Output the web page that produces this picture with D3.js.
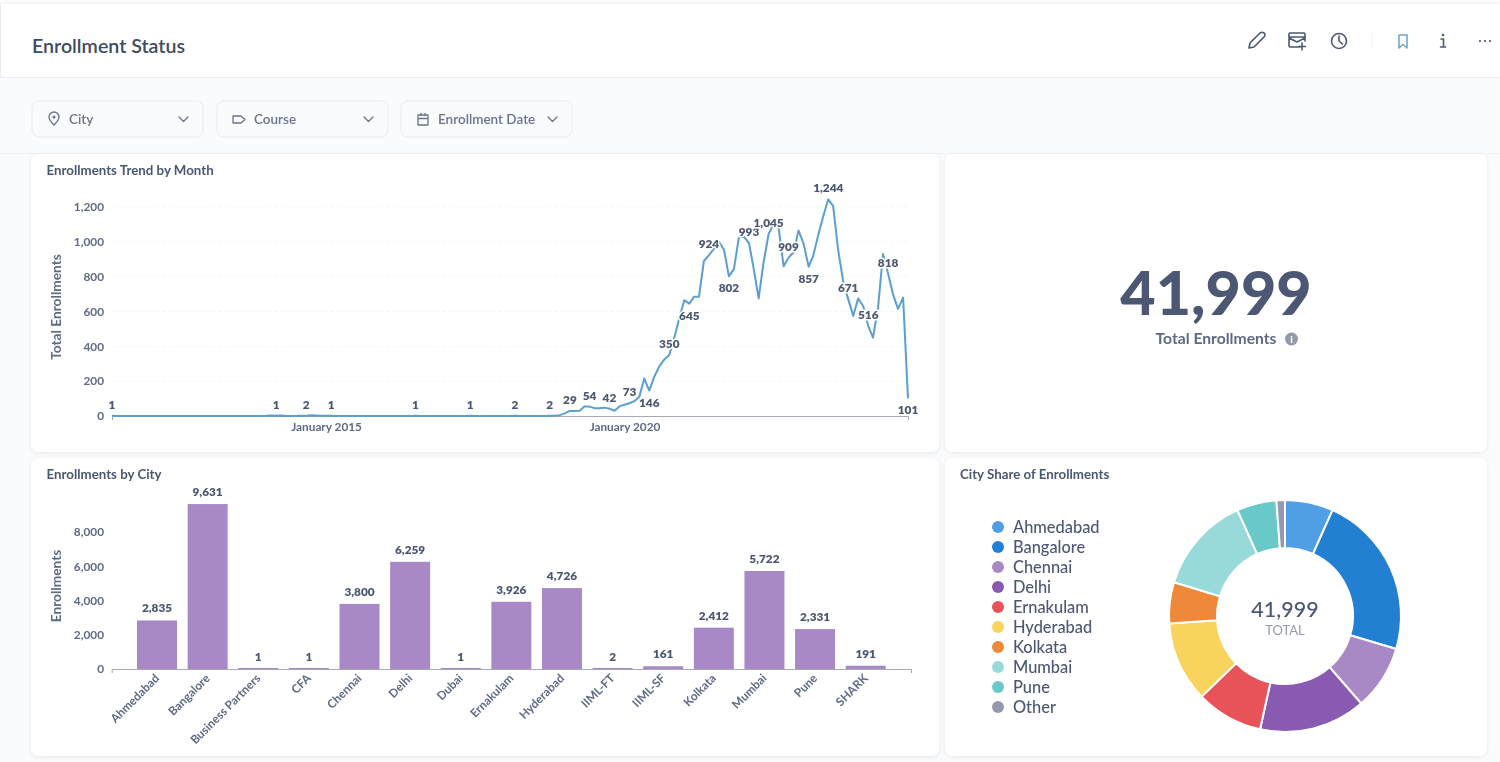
<!DOCTYPE html>
<html>
<head>
<meta charset="utf-8">
<title>Enrollment Status</title>
<script src="https://cdn.jsdelivr.net/npm/d3@7"></script>
<style>
    html, body { margin: 0; padding: 0; background: #f9fbfc; overflow: hidden; }
    svg { display: block; font-family: Lato, sans-serif; filter: blur(0.4px); }
    .axis text { font-family: Lato, sans-serif; font-size: 11.8px; font-weight: 700; fill: #5f6a85; }
    .axis path, .axis line { stroke: #a3a9b5; }
    .value-label { font-size: 11.8px; font-weight: 800; fill: #4c5773; text-anchor: middle; paint-order: stroke; stroke: #fff; stroke-width: 3px; stroke-linejoin: round; }
    .card-title { font-size: 13.3px; font-weight: 700; fill: #4c5773; }
    .axis-title { font-size: 13.700px; font-weight: 700; fill: #5f6a85; text-anchor: middle; }
    .icon { fill: none; stroke: #4c5773; stroke-width: 1.6; stroke-linecap: round; stroke-linejoin: round; }
</style>
</head>
<body>
<script>
// monthly enrollments, June 2011 to October 2024
const trendStart = new Date(2011, 5, 1);
const trendValues = [
    1, 0, 0, 0, 0, 0, 0, 0, 0, 0,
    0, 0, 0, 0, 0, 0, 0, 0, 0, 0,
    0, 0, 0, 0, 0, 0, 0, 0, 0, 0,
    0, 1, 3, 1, 3, 0, 0, 0, 1, 2,
    4, 3, 1, 1, 1, 0, 0, 0, 0, 0,
    0, 0, 0, 0, 0, 0, 0, 0, 0, 0,
    0, 1, 0, 0, 0, 0, 0, 0, 0, 0,
    0, 0, 1, 0, 0, 0, 0, 0, 0, 0,
    0, 2, 0, 0, 0, 0, 0, 0, 2, 2,
    5, 15, 29, 29, 30, 54, 54, 45, 44, 48,
    42, 30, 55, 65, 73, 85, 110, 215, 146, 225,
    285, 325, 350, 450, 560, 665, 645, 685, 685, 890,
    924, 960, 1000, 955, 802, 845, 1025, 1030, 993, 850,
    675, 880, 1045, 1100, 1080, 860, 909, 940, 1065, 990,
    857, 920, 1040, 1145, 1244, 1205, 950, 770, 671, 575,
    675, 630, 516, 450, 625, 930, 818, 700, 615, 680,
    101
];
const trendLabelAbove = [0, 33, 39, 44, 61, 72, 81, 88, 92, 96, 100, 104, 112, 120, 128, 132, 136, 144, 148, 152, 156];
const trendLabelBelow = [108, 116, 124, 140, 160];
const trendTicks = [0, 200, 400, 600, 800, 1000, 1200];

const cities = ["Ahmedabad", "Bangalore", "Business Partners", "CFA", "Chennai", "Delhi", "Dubai", "Ernakulam", "Hyderabad", "IIML-FT", "IIML-SF", "Kolkata", "Mumbai", "Pune", "SHARK"];
const cityValues = [2835, 9631, 1, 1, 3800, 6259, 1, 3926, 4726, 2, 161, 2412, 5722, 2331, 191];
const cityTicks = [0, 2000, 4000, 6000, 8000];

// Other is read from its drawn slice, a little wider than its true count
const shareNames = ["Ahmedabad", "Bangalore", "Chennai", "Delhi", "Ernakulam", "Hyderabad", "Kolkata", "Mumbai", "Pune", "Other"];
const shareValues = [2835, 9631, 3800, 6259, 3926, 4726, 2412, 5722, 2331, 500];
const shareColors = ["#509ee3", "#227fd2", "#a989c5", "#885ab1", "#e8535a", "#f9d45c", "#f0883a", "#98d9d9", "#69c8c8", "#949aab"];

const totalEnrollments = 41999;
const filterNames = ["City", "Course", "Enrollment Date"];

const fmt = d3.format(",");
const svg = d3.select("body").append("svg").attr("width", 1500).attr("height", 762);

// page header
svg.append("rect").attr("x", 0).attr("y", 3).attr("width", 1500).attr("height", 74).attr("fill", "#fff");
svg.append("line").attr("x1", 0).attr("x2", 1500).attr("y1", 3).attr("y2", 3).attr("stroke", "#eef0f3");
svg.append("line").attr("x1", 0).attr("x2", 1500).attr("y1", 77.5).attr("y2", 77.5).attr("stroke", "#e8ebef");
svg.append("line").attr("x1", 0.5).attr("x2", 0.5).attr("y1", 3).attr("y2", 77).attr("stroke", "#e8ebef");
svg.append("text").attr("x", 32).attr("y", 53).attr("font-size", 19.6).attr("font-weight", 600).attr("fill", "#3f4a63").text("Enrollment Status");

// header icons
const icons = svg.append("g");
icons.append("path").attr("class", "icon").attr("d", "M1249 48l1-5 10-10q2-1.5 4 0t0 4l-10 10z");
icons.append("path").attr("class", "icon").attr("d", "M1300 47h-10q-1 0-1-1v-12q0-1 1-1h14q1 0 1 1v7M1289 37h16M1289 38l8 4 8-4M1302 43v7M1298.500 46.500h7");
icons.append("circle").attr("class", "icon").attr("cx", 1339).attr("cy", 41).attr("r", 7.500);
icons.append("path").attr("class", "icon").attr("d", "M1339 36v5l3.500 3");
icons.append("line").attr("x1", 1372).attr("x2", 1372).attr("y1", 33).attr("y2", 49).attr("stroke", "#eef0f3");
icons.append("path").attr("class", "icon").style("stroke", "#6fa8d6").attr("d", "M1399 35h8v13l-4-3.500-4 3.500z");
icons.append("path").attr("class", "icon").attr("d", "M1441 39h2.500v8M1440.500 47h5");
icons.append("circle").attr("cx", 1443).attr("cy", 35).attr("r", 1.300).attr("fill", "#4c5773");
[1480, 1485, 1490].forEach(x => {
    icons.append("circle").attr("cx", x).attr("cy", 41).attr("r", 1.100).attr("fill", "#4c5773");
});

// filter strip
svg.append("line").attr("x1", 0).attr("x2", 1500).attr("y1", 153.5).attr("y2", 153.5).attr("stroke", "#eceff3");
const filterX = [32, 217, 401];
const filterG = svg.selectAll(".filter").data(filterNames).enter().append("g")
    .attr("class", "filter")
    .attr("transform", (d, i) => `translate(${filterX[i]},101)`);
filterG.append("rect").attr("width", 171).attr("height", 36).attr("rx", 7)
    .attr("fill", "#fafbfc").attr("stroke", "#e9ecf0");
filterG.append("text").attr("x", 37).attr("y", 23).attr("font-size", 13.5).attr("font-weight", 600).attr("fill", "#69738c").text(d => d);
filterG.append("path").attr("class", "icon").style("stroke", "#69738c").style("stroke-width", 1.300)
    .attr("d", "M147 16l4.500 4.500 4.500-4.500");
const pin = d3.select(filterG.nodes()[0]);
pin.append("path").attr("class", "icon").style("stroke", "#69738c").style("stroke-width", 1.300).attr("d", "M22 24q-5-5-5-8a5 5 0 0 1 10 0q0 3-5 8z");
pin.append("circle").attr("cx", 22).attr("cy", 16).attr("r", 1.500).attr("fill", "#69738c");
d3.select(filterG.nodes()[1]).append("path").attr("class", "icon").style("stroke", "#69738c").style("stroke-width", 1.300)
    .attr("d", "M16 15h8l4 3.500-4 3.500h-8z");
d3.select(filterG.nodes()[2]).append("path").attr("class", "icon").style("stroke", "#69738c").style("stroke-width", 1.300)
    .attr("d", "M17 14h10v10h-10zM17 17.500h10M20 12.500v2M24 12.500v2");

// cards
const defs = svg.append("defs");
const shadow = defs.append("filter").attr("id", "cardShadow").attr("x", "-5%").attr("y", "-5%").attr("width", "110%").attr("height", "110%");
shadow.append("feDropShadow").attr("dx", 0).attr("dy", 1).attr("stdDeviation", 2).attr("flood-color", "#000").attr("flood-opacity", 0.08);
const cardRects = [[31, 154, 908, 298], [945, 154, 542, 298], [31, 458, 908, 298], [945, 458, 542, 298]];
cardRects.forEach(c => {
    svg.append("rect").attr("x", c[0]).attr("y", c[1]).attr("width", c[2]).attr("height", c[3]).attr("rx", 8)
        .attr("fill", "#fff").attr("filter", "url(#cardShadow)");
});
svg.append("text").attr("class", "card-title").attr("x", 46.500).attr("y", 174.500).text("Enrollments Trend by Month");
svg.append("text").attr("class", "card-title").attr("x", 46.500).attr("y", 478.500).text("Enrollments by City");
svg.append("text").attr("class", "card-title").attr("x", 960).attr("y", 478.500).text("City Share of Enrollments");

// trend line
const trendData = trendValues.map((v, i) => ({ date: d3.timeMonth.offset(trendStart, i), value: v }));
const xTrend = d3.scaleTime().domain([trendStart, trendData[trendData.length - 1].date]).range([112, 908]);
const yTrend = d3.scaleLinear().domain([0, 1200]).range([416, 207]);

svg.append("g").selectAll("line").data(trendTicks.slice(1)).enter().append("line")
    .attr("x1", 113).attr("x2", 908)
    .attr("y1", d => yTrend(d)).attr("y2", d => yTrend(d))
    .attr("stroke", "#f6f7f8").attr("stroke-dasharray", "4 3");

svg.append("g").attr("class", "axis").attr("transform", "translate(104,0)")
    .call(d3.axisLeft(yTrend).tickValues(trendTicks).tickFormat(fmt).tickSize(0).tickPadding(0))
    .call(g => g.select(".domain").remove());
svg.append("g").attr("class", "axis").attr("transform", "translate(0,416)")
    .call(d3.axisBottom(xTrend)
        .tickValues([new Date(2015, 0, 1), new Date(2020, 0, 1)])
        .tickFormat(d3.timeFormat("%B %Y"))
        .tickSizeInner(0).tickSizeOuter(4).tickPadding(7));
svg.append("text").attr("class", "axis-title").attr("transform", "translate(61,307) rotate(-90)").text("Total Enrollments");

const trendLine = d3.line().x(d => xTrend(d.date)).y(d => yTrend(d.value));
svg.append("path").datum(trendData).attr("d", trendLine)
    .attr("fill", "none").attr("stroke", "#5a9fd0").attr("stroke-width", 2).attr("stroke-linejoin", "round");

const addTrendLabels = (indexes, dy) => {
    svg.append("g").selectAll("text").data(indexes).enter().append("text")
        .attr("class", "value-label")
        .attr("x", i => xTrend(trendData[i].date))
        .attr("y", i => yTrend(trendData[i].value) + dy)
        .text(i => fmt(trendData[i].value));
};
addTrendLabels(trendLabelAbove, -7);
addTrendLabels(trendLabelBelow, 16);

// bars by city
const xCity = d3.scaleBand().domain(cities).range([111.7, 911]).paddingInner(0.21).paddingOuter(0.5);
const yCity = d3.scaleLinear().domain([0, 8000]).range([669, 532]);

svg.append("g").selectAll("rect").data(cities).enter().append("rect")
    .attr("x", d => xCity(d))
    .attr("width", xCity.bandwidth())
    .attr("y", (d, i) => Math.min(yCity(cityValues[i]), 668))
    .attr("height", (d, i) => Math.max(669 - yCity(cityValues[i]), 1))
    .attr("fill", "#a989c5");

svg.append("g").attr("class", "axis").attr("transform", "translate(104,0)")
    .call(d3.axisLeft(yCity).tickValues(cityTicks).tickFormat(fmt).tickSize(0).tickPadding(0))
    .call(g => g.select(".domain").remove());
svg.append("g").attr("class", "axis").attr("transform", "translate(0,669)")
    .call(d3.axisBottom(xCity).tickSizeInner(0).tickSizeOuter(4).tickPadding(0))
    .selectAll("text")
    .attr("text-anchor", "end")
    .attr("dy", 0)
    .attr("transform", "translate(3,10) rotate(-45)");
svg.append("text").attr("class", "axis-title").attr("transform", "translate(61,586) rotate(-90)").text("Enrollments");

svg.append("g").selectAll("text").data(cities).enter().append("text")
    .attr("class", "value-label")
    .attr("x", d => xCity(d) + xCity.bandwidth() / 2)
    .attr("y", (d, i) => yCity(cityValues[i]) - 8)
    .text((d, i) => fmt(cityValues[i]));

// big number
svg.append("text").attr("x", 1216).attr("y", 315).attr("text-anchor", "middle")
    .attr("font-size", 61).attr("font-weight", 900).attr("fill", "#4c5773").text(fmt(totalEnrollments));
svg.append("text").attr("x", 1216).attr("y", 343.500).attr("text-anchor", "middle")
    .attr("font-size", 15.700).attr("font-weight", 700).attr("fill", "#5f6a85").text("Total Enrollments");
svg.append("circle").attr("cx", 1291.500).attr("cy", 339).attr("r", 6.500).attr("fill", "#949aab");
svg.append("text").attr("x", 1291.500).attr("y", 343).attr("text-anchor", "middle")
    .attr("font-size", 10).attr("font-weight", 900).attr("fill", "#fff").text("i");

// donut
const pie = d3.pie().sort(null)(shareValues);
const arc = d3.arc().innerRadius(68).outerRadius(116);
const donut = svg.append("g").attr("transform", "translate(1285,616)");
donut.selectAll("path").data(pie).enter().append("path")
    .attr("d", arc)
    .attr("fill", (d, i) => shareColors[i])
    .attr("stroke", "#fff").attr("stroke-width", 2);
donut.append("text").attr("text-anchor", "middle").attr("y", 1).attr("font-size", 21.500).attr("font-weight", 500).attr("fill", "#4c5773").text(fmt(totalEnrollments));
donut.append("text").attr("text-anchor", "middle").attr("y", 19).attr("font-size", 13).attr("fill", "#949aab").text("TOTAL");

// legend
const legend = svg.append("g").selectAll("g").data(shareNames).enter().append("g")
    .attr("transform", (d, i) => `translate(998,${527 + i * 20})`);
legend.append("circle").attr("r", 6).attr("fill", (d, i) => shareColors[i]);
legend.append("text").attr("x", 15).attr("y", 5.500).attr("font-size", 16.400).attr("font-weight", 500).attr("fill", "#4c5773").text(d => d);
</script>
</body>
</html>
